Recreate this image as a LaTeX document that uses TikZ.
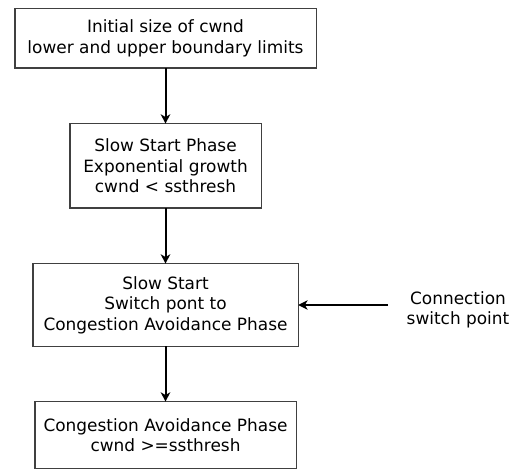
\documentclass[tikz,border=0pt]{standalone}
\usepackage{fontspec}
\setmainfont{DejaVu Sans}
\usetikzlibrary{arrows.meta}
\usetikzlibrary{positioning}
\tikzset{
    phase/.style = {draw=black!75,line width=1.1pt,align=center,inner sep=0,outer sep=0},
    flow/.style = {line width=1.5pt,-{Stealth[length=7pt,width=7pt,inset=2pt]}}
}
\tikzset{
    note/.style = {align=center,inner sep=0}
}

\begin{document}
\begin{tikzpicture}[x=0.75pt,y=-0.75pt,font=\fontsize{12.7}{15.3}\selectfont,node distance=41.6pt]
    \useasboundingbox (0,0) rectangle (521,470);
    % Phases
    \node[phase,minimum width=226.1pt,minimum height=44.6pt] (init) at (165.5,38.5)
        {Initial size of cwnd\\lower and upper boundary limits};
    \node[phase,minimum width=143.6pt,minimum height=63.4pt,below=of init] (ss)
        {Slow Start Phase\\Exponential growth\\cwnd < ssthresh};
    \node[phase,minimum width=199.1pt,minimum height=61.9pt,below=of ss] (sw)
        {Slow Start\\Switch pont to\\Congestion Avoidance Phase};
    \node[phase,minimum width=196.1pt,minimum height=49.9pt,below=of sw] (ca)
        {Congestion Avoidance Phase\\cwnd >=ssthresh};
    % Connection
    \node[note] (conn) at (458,310) {Connection\\switch point};
    \coordinate (connend) at (388,305);
    % Arrows
    \foreach \src/\dest in {init/ss,ss/sw,sw/ca}
        \draw[flow] (\src) to (\dest);
    \draw[flow] (connend) to (sw.east |- connend);
\end{tikzpicture}
\end{document}
